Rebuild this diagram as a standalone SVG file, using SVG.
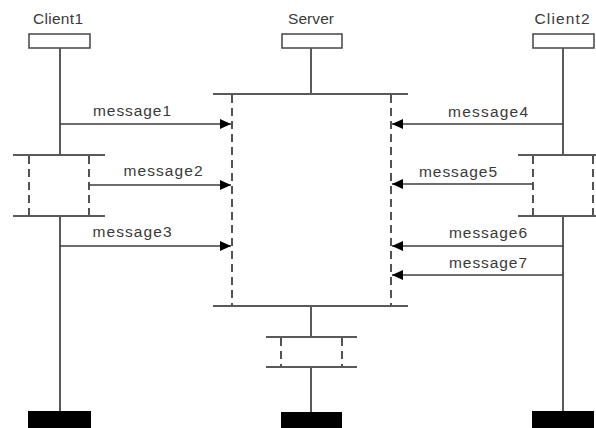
<svg xmlns="http://www.w3.org/2000/svg" width="596" height="428" viewBox="0 0 596 428">
  <style>
    .label { font-family: "Liberation Sans", Arial, sans-serif; font-size: 15.5px; fill: #3a3a3a; text-anchor: middle; }
    .head { fill: #ffffff; stroke: #505050; stroke-width: 1.6; }
    .life { stroke: #5a5a5a; stroke-width: 2; fill: none; }
    .bar { stroke: #5a5a5a; stroke-width: 2; fill: none; }
    .dash { stroke: #2a2a2a; stroke-width: 1.6; stroke-dasharray: 8 5; fill: none; }
    .msg { stroke: #3c3c3c; stroke-width: 1.6; fill: none; marker-end: url(#arrow); }
    .stop { fill: #000000; }
  </style>
  <defs>
    <marker id="arrow" viewBox="0 0 11 10" refX="11" refY="5" markerWidth="11" markerHeight="10" markerUnits="userSpaceOnUse" orient="auto">
      <path d="M0,0 L11,5 L0,10 Z" fill="#000000"/>
    </marker>
  </defs>
  <rect width="596" height="428" fill="#ffffff"/>

  <!-- Client1 lifeline -->
  <g id="client1">
    <text class="label" x="58" y="24" textLength="50" lengthAdjust="spacing">Client1</text>
    <rect class="head" x="29" y="34" width="61" height="14"/>
    <line class="life" x1="60" y1="48" x2="60" y2="155"/>
    <line class="bar" x1="13" y1="155" x2="105" y2="155"/>
    <line class="dash" x1="29" y1="156" x2="29" y2="216"/>
    <line class="dash" x1="89" y1="156" x2="89" y2="216"/>
    <line class="bar" x1="13" y1="216" x2="105" y2="216"/>
    <line class="life" x1="60" y1="216" x2="60" y2="411"/>
    <rect class="stop" x="28" y="411" width="63" height="17"/>
  </g>

  <!-- Server lifeline -->
  <g id="server">
    <text class="label" x="311" y="24" textLength="46" lengthAdjust="spacing">Server</text>
    <rect class="head" x="282" y="34" width="60" height="14"/>
    <line class="life" x1="311" y1="48" x2="311" y2="94"/>
    <line class="bar" x1="213" y1="94" x2="408" y2="94"/>
    <line class="dash" x1="232" y1="95" x2="232" y2="306"/>
    <line class="dash" x1="391" y1="95" x2="391" y2="306"/>
    <line class="bar" x1="213" y1="306" x2="408" y2="306"/>
    <line class="life" x1="311" y1="306" x2="311" y2="337"/>
    <line class="bar" x1="266" y1="337" x2="357" y2="337"/>
    <line class="dash" x1="281" y1="338" x2="281" y2="367"/>
    <line class="dash" x1="342" y1="338" x2="342" y2="367"/>
    <line class="bar" x1="266" y1="367" x2="357" y2="367"/>
    <line class="life" x1="311" y1="367" x2="311" y2="412"/>
    <rect class="stop" x="281" y="412" width="61" height="16"/>
  </g>

  <!-- Client2 lifeline -->
  <g id="client2">
    <text class="label" x="562" y="24" textLength="55" lengthAdjust="spacing">Client2</text>
    <rect class="head" x="533" y="34" width="61" height="14"/>
    <line class="life" x1="563" y1="48" x2="563" y2="155"/>
    <line class="bar" x1="518" y1="155" x2="610" y2="155"/>
    <line class="dash" x1="533" y1="156" x2="533" y2="216"/>
    <line class="dash" x1="593" y1="156" x2="593" y2="216"/>
    <line class="bar" x1="518" y1="216" x2="610" y2="216"/>
    <line class="life" x1="563" y1="216" x2="563" y2="411"/>
    <rect class="stop" x="532" y="411" width="62" height="17"/>
  </g>

  <!-- Messages -->
  <g id="connectors">
    <line class="msg" x1="60" y1="124" x2="231" y2="124"/>
    <line class="msg" x1="89" y1="185" x2="231" y2="185"/>
    <line class="msg" x1="60" y1="246" x2="231" y2="246"/>
    <line class="msg" x1="563" y1="124" x2="392" y2="124"/>
    <line class="msg" x1="533" y1="184" x2="392" y2="184"/>
    <line class="msg" x1="563" y1="246" x2="392" y2="246"/>
    <line class="msg" x1="563" y1="275" x2="392" y2="275"/>
    <text class="label" x="132" y="116" textLength="78" lengthAdjust="spacing">message1</text>
    <text class="label" x="163" y="176" textLength="79" lengthAdjust="spacing">message2</text>
    <text class="label" x="132" y="237" textLength="79" lengthAdjust="spacing">message3</text>
    <text class="label" x="488" y="117" textLength="80" lengthAdjust="spacing">message4</text>
    <text class="label" x="458" y="177" textLength="78" lengthAdjust="spacing">message5</text>
    <text class="label" x="488" y="238" textLength="78" lengthAdjust="spacing">message6</text>
    <text class="label" x="488" y="268" textLength="78" lengthAdjust="spacing">message7</text>
  </g>
</svg>
